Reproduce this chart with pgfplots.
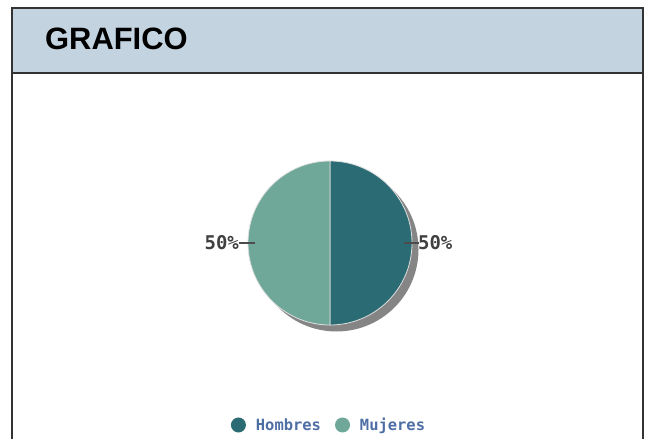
\documentclass[border=0pt]{standalone}
\usepackage{pgfplots}
\pgfplotsset{compat=1.18}
\usepackage{fontspec}
\setmainfont{Liberation Sans}
\newfontfamily\monofont{DejaVu Sans Mono}
\definecolor{hombres}{HTML}{2B6B73}
\definecolor{mujeres}{HTML}{6FA898}
\definecolor{header}{HTML}{C3D3E0}
\definecolor{legtext}{HTML}{4E6FA6}
\definecolor{shadow}{HTML}{858585}
% data (percent)
\def\valHombres{50}
\def\valMujeres{50}
\def\cx{330}
\def\cy{196}
\def\rr{82}
\begin{document}
\begin{tikzpicture}
\begin{axis}[
  width=646bp, height=439bp, scale only axis,
  xmin=0, xmax=646, ymin=0, ymax=439,
  hide axis, clip=false,
  legend columns=2,
  legend style={at={(axis cs:329,14)}, anchor=center, draw=none, fill=none,
    font=\monofont\bfseries\fontsize{15.5}{17}\selectfont\color{legtext},
    /tikz/every even column/.append style={column sep=12bp},
    /tikz/every odd column/.append style={column sep=8bp}},
  legend image code/.code={\fill[#1,draw=none] (0bp,0bp) circle (7.5bp);},
]
% background & frame
\fill[white] (axis cs:0,0) rectangle (axis cs:646,439);
\fill[header] (axis cs:12,366) rectangle (axis cs:643,431);
\draw[line width=1.4bp, black!80] (axis cs:12,0) -- (axis cs:12,431) -- (axis cs:643,431) -- (axis cs:643,0);
\draw[line width=1.4bp, black!80] (axis cs:12,366) -- (axis cs:643,366);
\node[anchor=base west, font=\bfseries\fontsize{31}{33}\selectfont, inner sep=0pt] at (axis cs:45,389) {GRAFICO};
% shadow
\addplot[forget plot, fill=shadow, draw=none, domain=0:360, samples=121]
  ({\cx+6.5+\rr*cos(x)}, {\cy-6.5+\rr*sin(x)});
% wedges
\addplot[fill=hombres, draw=white!75!gray, line width=0.8bp, domain={90-\valHombres*3.6}:90, samples=91]
  ({\cx+\rr*cos(x)}, {\cy+\rr*sin(x)}) -- (axis cs:\cx,\cy) -- cycle;
\addlegendentry{Hombres}
\addplot[fill=mujeres, draw=white!75!gray, line width=0.8bp, domain=90:{90+\valMujeres*3.6}, samples=91]
  ({\cx+\rr*cos(x)}, {\cy+\rr*sin(x)}) -- (axis cs:\cx,\cy) -- cycle;
\addlegendentry{Mujeres}
% labels
\draw[black!70, line width=1.4bp] (axis cs:404,196) -- (axis cs:419,196);
\node[anchor=west, inner sep=0pt, font=\monofont\bfseries\fontsize{19}{21}\selectfont, text=black!75] at (axis cs:418,196) {\valHombres\%};
\draw[black!70, line width=1.4bp] (axis cs:239,196) -- (axis cs:255,196);
\node[anchor=east, inner sep=0pt, font=\monofont\bfseries\fontsize{19}{21}\selectfont, text=black!75] at (axis cs:239,196) {\valMujeres\%};
\end{axis}
\end{tikzpicture}
\end{document}
